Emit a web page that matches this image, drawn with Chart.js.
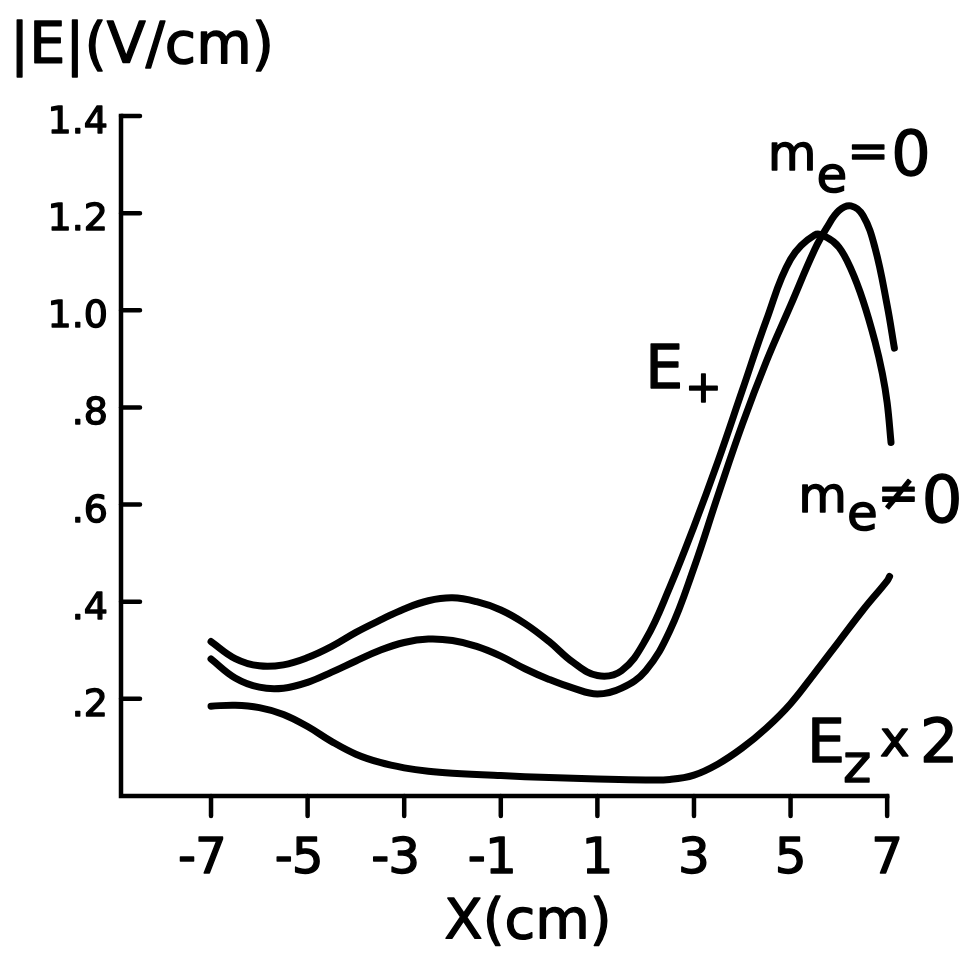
<!DOCTYPE html>
<html>
<head>
<meta charset="utf-8">
<script src="https://cdn.jsdelivr.net/npm/chart.js@4.4.1/dist/chart.umd.min.js"></script>
<style>
  html, body { margin: 0; padding: 0; background: #fff; }
  canvas { display: block; }
</style>
</head>
<body>
<canvas id="field" width="971" height="954"></canvas>
<script>
// values, x in cm, |E| in V/cm
const xMeNonzero = [-7, -6.5, -6, -5.5, -5, -4.5, -4, -3.5, -3, -2.5, -2, -1.5, -1, -0.5, 0, 0.5, 1, 1.5, 2, 2.5, 3, 3.5, 4, 4.5, 5, 5.5, 5.75, 6, 6.25, 6.5, 6.75, 6.9, 7, 7.08];
const eMeNonzero = [0.318, 0.283, 0.268, 0.270, 0.285, 0.308, 0.337, 0.362, 0.385, 0.402, 0.408, 0.400, 0.383, 0.355, 0.318, 0.275, 0.248, 0.258, 0.322, 0.43, 0.555, 0.69, 0.835, 0.98, 1.105, 1.155, 1.15, 1.13, 1.085, 1.02, 0.935, 0.87, 0.81, 0.728];

const xMeZero = [-7, -6.5, -6, -5.5, -5, -4.5, -4, -3.5, -3, -2.5, -2, -1.5, -1, -0.5, 0, 0.5, 1, 1.5, 2, 2.5, 3, 3.5, 4, 4.5, 5, 5.5, 5.75, 6, 6.25, 6.5, 6.75, 7, 7.15];
const eMeZero = [0.282, 0.243, 0.224, 0.222, 0.234, 0.255, 0.278, 0.300, 0.316, 0.323, 0.320, 0.308, 0.288, 0.262, 0.240, 0.222, 0.210, 0.222, 0.258, 0.34, 0.47, 0.62, 0.765, 0.895, 1.01, 1.125, 1.17, 1.205, 1.215, 1.195, 1.128, 1.01, 0.922];

const xEz = [-7, -6.5, -6, -5.5, -5, -4.5, -4, -3.5, -3, -2.5, -2, -1, 0, 1, 2, 2.5, 3, 3.5, 4, 4.5, 5, 5.5, 6, 6.5, 7, 7.05];
const eEzTimes2 = [0.185, 0.187, 0.182, 0.168, 0.143, 0.112, 0.086, 0.069, 0.058, 0.051, 0.047, 0.042, 0.038, 0.035, 0.033, 0.034, 0.043, 0.066, 0.099, 0.14, 0.19, 0.253, 0.318, 0.383, 0.443, 0.452];

const xTicks = [-7, -5, -3, -1, 1, 3, 5, 7];
const yTicks = [0.2, 0.4, 0.6, 0.8, 1.0, 1.2, 1.4];
const yTickLabels = ['.2', '.4', '.6', '.8', '1.0', '1.2', '1.4'];

const FONT = '"DejaVu Sans", "Noto Sans", sans-serif';

function points(xs, ys) {
    return xs.map((x, i) => ({ x: x, y: ys[i] }));
}

// pen lettering is heavier than the font, so stroke it a little too
function text(ctx, s, x, y, size, align) {
    ctx.font = size + 'px ' + FONT;
    ctx.textAlign = align || 'left';
    ctx.textBaseline = 'alphabetic';
    ctx.lineWidth = 1.4;
    ctx.lineJoin = 'round';
    ctx.fillText(s, x, y);
    ctx.strokeText(s, x, y);
    return ctx.measureText(s).width;
}

// axes, ticks and lettering drawn by hand like the original plot
const handAxes = {
    id: 'handAxes',
    beforeDatasetsDraw(chart) {
        const ctx = chart.ctx;
        const xs = chart.scales.x, ys = chart.scales.y;
        const left = xs.getPixelForValue(xs.min);
        const right = xs.getPixelForValue(7);
        const top = ys.getPixelForValue(1.4);
        const bottom = ys.getPixelForValue(0);

        ctx.save();
        ctx.strokeStyle = '#000';
        ctx.lineWidth = 4.5;
        ctx.lineCap = 'square';
        ctx.beginPath();
        ctx.moveTo(left, top);
        ctx.lineTo(left, bottom);
        ctx.lineTo(right, bottom);
        ctx.stroke();

        ctx.lineCap = 'round';
        ctx.beginPath();
        yTicks.forEach(v => {
            const py = ys.getPixelForValue(v);
            ctx.moveTo(left, py);
            ctx.lineTo(left + 19, py);
        });
        xTicks.forEach(v => {
            const px = xs.getPixelForValue(v);
            ctx.moveTo(px, bottom);
            ctx.lineTo(px, bottom + 20);
        });
        ctx.stroke();
        ctx.restore();
    },
    afterDraw(chart) {
        const ctx = chart.ctx;
        const xs = chart.scales.x, ys = chart.scales.y;
        const left = xs.getPixelForValue(xs.min);
        const bottom = ys.getPixelForValue(0);
        ctx.save();
        ctx.fillStyle = '#000';
        ctx.strokeStyle = '#000';

        yTicks.forEach((v, i) => {
            text(ctx, yTickLabels[i], left - 13, ys.getPixelForValue(v) + 17, 38, 'right');
        });

        xTicks.forEach(v => {
            const px = xs.getPixelForValue(v);
            const digits = String(Math.abs(v));
            const w = text(ctx, digits, px, bottom + 77, 50, 'center');
            if (v < 0) text(ctx, '-', px - w / 2 + 1, bottom + 77, 50, 'right');
        });

        text(ctx, '|E|(V/cm)', 10, 63, 57);
        text(ctx, 'X(cm)', 528, 938, 56, 'center');

        // m_e = 0
        let px = xs.getPixelForValue(4.53), py = ys.getPixelForValue(1.289);
        let w = text(ctx, 'm', px, py, 50);
        w += text(ctx, 'e', px + w, py + 22, 50);
        w += text(ctx, '=', px + w, py - 2, 50);
        text(ctx, '0', px + w + 2, py + 5, 62);

        // m_e != 0
        px = xs.getPixelForValue(5.16); py = ys.getPixelForValue(0.585);
        w = text(ctx, 'm', px, py, 50);
        w += text(ctx, 'e', px + w, py + 18, 50);
        w += text(ctx, '≠', px + w, py - 2, 50);
        text(ctx, '0', px + w + 2, py + 10, 64);

        // E+
        px = xs.getPixelForValue(1.99); py = ys.getPixelForValue(0.84);
        w = text(ctx, 'E', px, py, 60);
        text(ctx, '+', px + w + 2, py + 14, 44);

        // Ez x 2
        px = xs.getPixelForValue(5.34); py = ys.getPixelForValue(0.07);
        w = text(ctx, 'E', px, py, 60);
        text(ctx, 'z', px + w - 2, py + 20, 54);
        text(ctx, 'x', px + 73, py - 6, 50);
        text(ctx, '2', px + 113, py, 60);

        ctx.restore();
    }
};

const lineStyle = {
    borderColor: '#000',
    borderWidth: 7,
    pointRadius: 0,
    tension: 0.4,
    borderCapStyle: 'round',
    borderJoinStyle: 'round',
    fill: false,
    clip: false
};

new Chart(document.getElementById('field'), {
    type: 'line',
    data: {
        datasets: [
            Object.assign({ label: 'E+ (me ≠ 0)', data: points(xMeNonzero, eMeNonzero) }, lineStyle),
            Object.assign({ label: 'E+ (me = 0)', data: points(xMeZero, eMeZero) }, lineStyle),
            Object.assign({ label: 'Ez x 2', data: points(xEz, eEzTimes2) }, lineStyle)
        ]
    },
    options: {
        responsive: false,
        animation: false,
        devicePixelRatio: 1,
        // axis line stops at x = 7, the plotted curves run a touch past it
        layout: { padding: { left: 121, right: 76.6, top: 116, bottom: 158 } },
        scales: {
            x: { type: 'linear', min: -8.864, max: 7.15, display: false },
            y: { type: 'linear', min: 0, max: 1.4, display: false }
        },
        plugins: {
            legend: { display: false },
            tooltip: { enabled: false }
        }
    },
    plugins: [handAxes]
});
</script>
</body>
</html>
